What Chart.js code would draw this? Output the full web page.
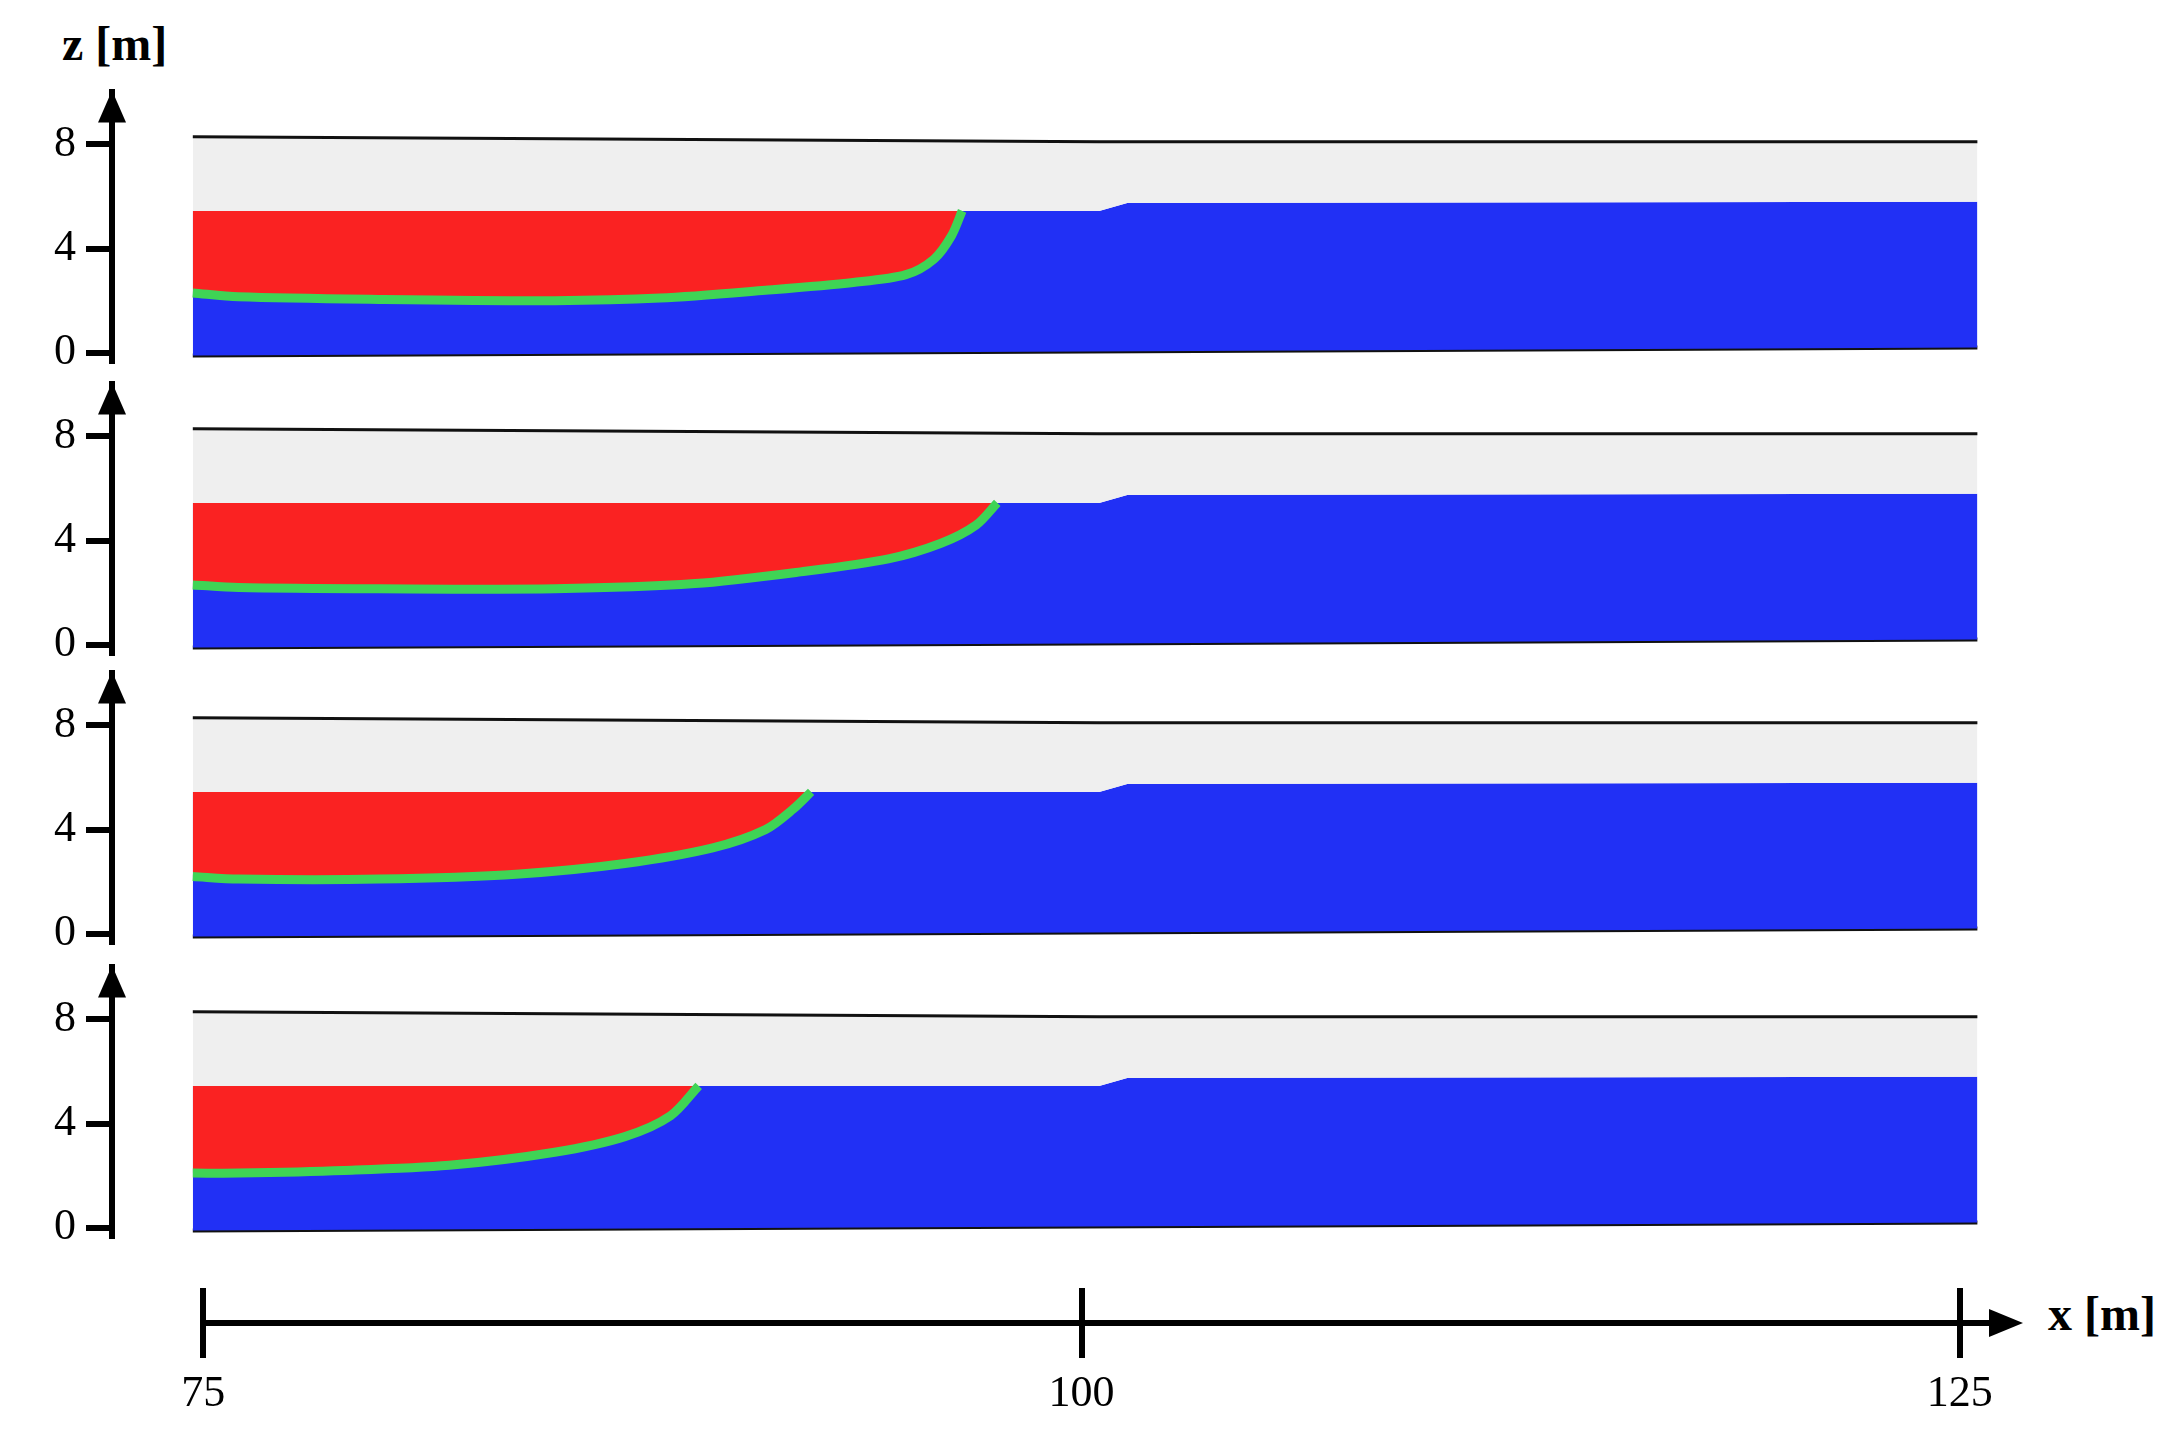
<!DOCTYPE html>
<html><head><meta charset="utf-8">
<script src="https://cdn.jsdelivr.net/npm/chart.js@4"></script>
<style>body{margin:0;background:#fff;width:2182px;height:1433px;position:relative;overflow:hidden;font-family:'Liberation Serif',serif}
canvas{position:absolute;left:0}
.lbl{position:absolute;font-size:48px;color:#000;font-weight:bold}</style></head><body>
<div class="lbl" style="left:62px;top:16px">z [m]</div>
<div class="lbl" style="left:2048px;top:1286px">x [m]</div>
<script>
// Data (x in m, z in m)
const xMin = 72.4, xMax = 126.4;
const yTicks = [0, 4, 8];
const xTicks = [75, 100, 125];
const topSurface = [[74.7, 8.3], [100.5, 8.1], [125.5, 8.1]];
const graySurface = [[74.7, 5.45], [100.5, 5.45], [101.3, 5.75], [125.5, 5.8]];
const bottomSurface = [[74.7, -0.1], [125.5, 0.2]];
const fronts = [96.6, 97.6, 92.3, 89.1];
const interfaces = [
  [[74.7,2.3],[76,2.15],[80,2.05],[85,2.0],[88,2.1],[91,2.4],[93.5,2.7],[95,3.0],[95.8,3.6],[96.3,4.5],[96.6,5.45]],
  [[74.7,2.3],[76,2.2],[80,2.15],[85,2.15],[89,2.35],[92,2.8],[94.5,3.3],[96,3.9],[97,4.6],[97.6,5.45]],
  [[74.7,2.2],[76,2.1],[80,2.1],[84,2.3],[87,2.7],[89.5,3.3],[91,4.0],[91.8,4.8],[92.3,5.45]],
  [[74.7,2.1],[76,2.1],[79,2.2],[82,2.4],[85,2.9],[87,3.5],[88.3,4.3],[89.1,5.45]]
];
const panelTops = [56, 348, 637, 931];

const pts = a => a.map(p => ({x: p[0], y: p[1]}));
const arrowPlugin = {
  id: 'arrow',
  afterDraw(c) {
    const ctx = c.ctx, a = c.chartArea;
    ctx.save(); ctx.fillStyle = '#000';
    ctx.beginPath(); ctx.moveTo(a.left, a.top - 2); ctx.lineTo(a.left - 14, a.top + 30); ctx.lineTo(a.left + 14, a.top + 30); ctx.closePath(); ctx.fill();
    ctx.restore();
  }
};
function mkCanvas(top, h) {
  const cv = document.createElement('canvas');
  cv.width = 2182; cv.height = h;
  cv.style.top = top + 'px'; cv.style.width = '2182px'; cv.style.height = h + 'px';
  document.body.appendChild(cv);
  return cv;
}
panelTops.forEach((top, i) => {
  const cv = mkCanvas(top, 341);
  new Chart(cv, {
    type: 'line',
    data: { datasets: [
      {data: pts(interfaces[i]), borderColor: '#3fd455', borderWidth: 9, pointRadius: 0, tension: 0.3, fill: false},
      {data: pts([[74.7, 5.45], [fronts[i], 5.45]]), borderColor: 'rgba(0,0,0,0)', borderWidth: 0, pointRadius: 0, fill: {target: 0, above: '#fa2222', below: '#fa2222'}},
      {data: pts(topSurface), borderColor: '#111', borderWidth: 3, pointRadius: 0, fill: {target: 3, above: '#efefef', below: '#efefef'}},
      {data: pts(graySurface), borderColor: 'rgba(0,0,0,0)', borderWidth: 0, pointRadius: 0, fill: {target: 4, above: '#2130f5', below: '#2130f5'}},
      {data: pts(bottomSurface), borderColor: '#111', borderWidth: 4, pointRadius: 0, fill: false}
    ]},
    options: {
      animation: false, responsive: false, devicePixelRatio: 1,
      layout: {padding: {left: 0, right: 173, top: 0, bottom: 4}},
      plugins: {legend: {display: false}, tooltip: {enabled: false}},
      scales: {
        x: {type: 'linear', min: xMin, max: xMax, display: false},
        y: {min: -0.3, max: 10,
          afterFit: s => { s.width = 112; },
          afterBuildTicks: s => { s.ticks = yTicks.map(v => ({value: v})); },
          border: {display: true, color: '#000', width: 6},
          grid: {drawOnChartArea: false, color: '#000', lineWidth: 6, tickLength: 26},
          ticks: {color: '#000', font: {family: 'Liberation Serif', size: 44}, padding: 10}
        }
      }
    },
    plugins: [arrowPlugin]
  });
});

// bottom x axis
const axisLine = [[75, 0], [126.4, 0]];
const cv = mkCanvas(1288, 145);
new Chart(cv, {
  type: 'line',
  data: {datasets: [{data: pts(axisLine), borderColor: '#000', borderWidth: 6, pointRadius: 0, clip: false}]},
  options: {
    animation: false, responsive: false, devicePixelRatio: 1,
    layout: {padding: {left: 112, right: 173, top: 0, bottom: 0}},
    plugins: {legend: {display: false}, tooltip: {enabled: false}},
    scales: {
      x: {type: 'linear', min: xMin, max: xMax,
        afterFit: s => { s.height = 110; },
        afterBuildTicks: s => { s.ticks = xTicks.map(v => ({value: v})); },
        border: {display: false},
        grid: {drawOnChartArea: true, color: '#000', lineWidth: 6, tickLength: 35},
        ticks: {color: '#000', font: {family: 'Liberation Serif', size: 44}, padding: 10}
      },
      y: {min: 0, max: 1, display: false}
    }
  },
  plugins: [{id: 'xarrow', afterDraw(c) {
    const ctx = c.ctx, a = c.chartArea, x = c.scales.x.getPixelForValue(xMax) + 4, y = a.bottom;
    ctx.save(); ctx.fillStyle = '#000'; ctx.beginPath();
    ctx.moveTo(x + 10, y); ctx.lineTo(x - 24, y - 14); ctx.lineTo(x - 24, y + 14); ctx.closePath(); ctx.fill(); ctx.restore();
  }}]
});
</script></body></html>
